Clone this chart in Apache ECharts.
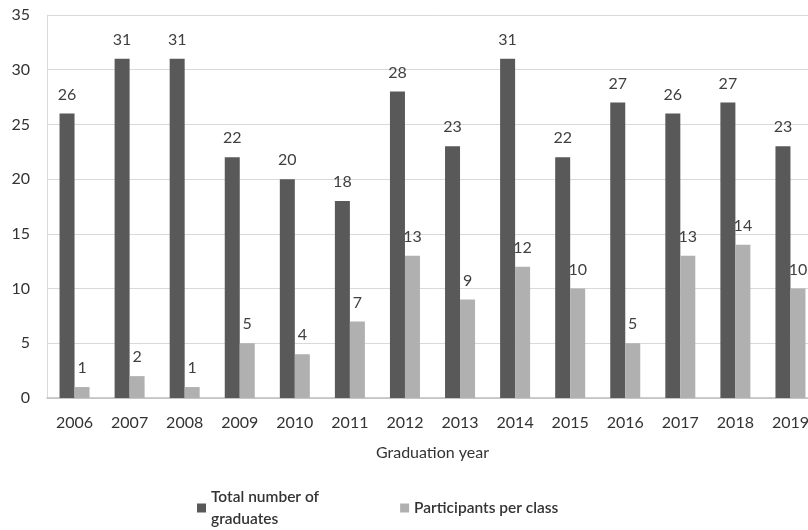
<!DOCTYPE html>
<html>
<head>
<meta charset="utf-8">
<script src="https://cdn.jsdelivr.net/npm/echarts@6/dist/echarts.min.js"></script>
<style>
  html, body { margin: 0; padding: 0; background: #fff; overflow: hidden; }
  #main { width: 818px; height: 530px; }
</style>
</head>
<body>
<div id="main"></div>
<script>
// 毕业年份
const years = ['2006', '2007', '2008', '2009', '2010', '2011', '2012', '2013', '2014', '2015', '2016', '2017', '2018', '2019'];
const totalGraduates = [26, 31, 31, 22, 20, 18, 28, 23, 31, 22, 27, 26, 27, 23];
const participants = [1, 2, 1, 5, 4, 7, 13, 9, 12, 10, 5, 13, 14, 10];
const seriesNames = ['Total number of graduates', 'Participants per class'];

const font = 'Lato, "Open Sans", sans-serif';
const chart = echarts.init(document.getElementById('main'));

const labelStyle = {
    show: true,
    position: 'top',
    distance: 11,
    color: '#404040',
    fontSize: 16,
    fontFamily: font
};

chart.setOption({
    animation: false,
    grid: {
        left: 47,
        right: 0,
        top: 15,
        bottom: 132
    },
    legend: {
        top: 481,
        left: 192,
        itemWidth: 9,
        itemHeight: 9,
        itemGap: 81,
        icon: 'rect',
        data: seriesNames,
        textStyle: { color: '#333', fontSize: 15.5, fontWeight: 600, fontFamily: font, lineHeight: 22 },
        formatter: function (name) {
            return name === seriesNames[0] ? 'Total number of\ngraduates' : name;
        }
    },
    xAxis: {
        type: 'category',
        data: years,
        name: 'Graduation year',
        nameLocation: 'middle',
        nameGap: 47,
        nameTextStyle: { color: '#333', fontSize: 16, fontFamily: font },
        axisLine: { lineStyle: { color: '#bfbfbf', width: 1.5 } },
        axisTick: { show: false },
        axisLabel: { color: '#333', fontSize: 16, fontFamily: font, margin: 17 }
    },
    yAxis: {
        type: 'value',
        min: 0,
        max: 35,
        interval: 5,
        axisLine: { show: true, lineStyle: { color: '#d9d9d9' } },
        axisTick: { show: false },
        splitLine: { lineStyle: { color: '#d9d9d9' } },
        axisLabel: { color: '#333', fontSize: 16, fontFamily: font, margin: 17 }
    },
    series: [
        {
            name: seriesNames[0],
            type: 'bar',
            data: totalGraduates,
            barWidth: 15,
            barGap: '0%',
            itemStyle: { color: '#595959' },
            label: labelStyle
        },
        {
            name: seriesNames[1],
            type: 'bar',
            data: participants,
            barWidth: 15,
            barGap: '0%',
            itemStyle: { color: '#b0b0b0' },
            label: labelStyle
        }
    ]
});
</script>
</body>
</html>
